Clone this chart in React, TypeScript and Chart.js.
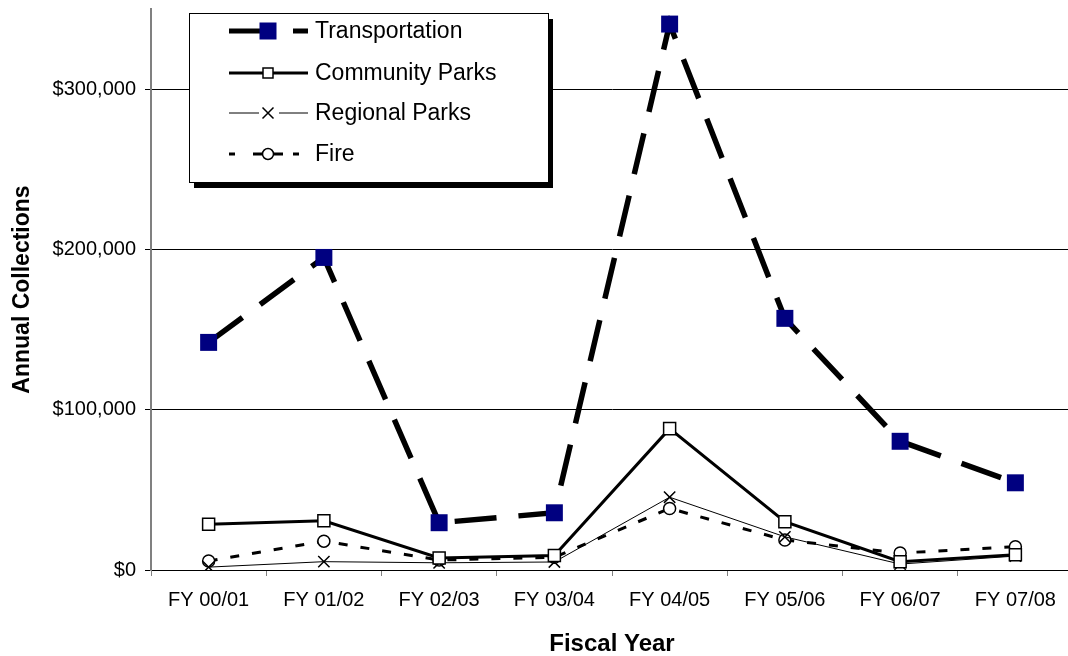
import React, { useEffect, useRef } from "react";
import { Chart, registerables } from "chart.js";

Chart.register(...registerables);

const CATEGORIES = ["FY 00/01", "FY 01/02", "FY 02/03", "FY 03/04", "FY 04/05", "FY 05/06", "FY 06/07", "FY 07/08"];
const TRANSPORTATION = [142000, 195000, 29500, 35700, 340600, 157000, 80300, 54400];
const COMMUNITY_PARKS = [28600, 30700, 7500, 9000, 88200, 30100, 5200, 9500];
const REGIONAL_PARKS = [1800, 5200, 4500, 5000, 45400, 20700, 3700, 8700];
const FIRE = [5600, 18000, 6200, 8000, 38400, 18700, 10600, 14500];
const SERIES_NAMES = ["Transportation", "Community Parks", "Regional Parks", "Fire"];
const Y_TICKS = [0, 100000, 200000, 300000];
const Y_MAX = 350000;

const FONT = "'Liberation Sans', Arial, sans-serif";

const legendPlugin = {
  id: "boxLegend",
  afterDraw(chart: any) {
    const ctx: CanvasRenderingContext2D = chart.ctx;
    ctx.save();
    const bx = 189, by = 13, bw = 359, bh = 169;
    ctx.fillStyle = "#000";
    ctx.fillRect(bx + 5, by + 6, bw, bh);
    ctx.fillStyle = "#fff";
    ctx.fillRect(bx, by, bw, bh);
    ctx.strokeStyle = "#000";
    ctx.lineWidth = 1;
    ctx.strokeRect(bx + 0.5, by + 0.5, bw, bh);

    const rows = [31, 73, 113, 154];
    const x0 = 229, x1 = 308, mx = 268, tx = 315;
    ctx.lineCap = "butt";

    // Transportation
    let y = rows[0];
    ctx.strokeStyle = "#000";
    ctx.lineWidth = 5;
    ctx.beginPath();
    ctx.moveTo(x0, y); ctx.lineTo(262, y);
    ctx.moveTo(293, y); ctx.lineTo(x1, y);
    ctx.stroke();
    ctx.fillStyle = "#000080";
    ctx.fillRect(mx - 8.5, y - 8.5, 17, 17);

    // Community Parks
    y = rows[1];
    ctx.lineWidth = 3;
    ctx.beginPath();
    ctx.moveTo(x0, y); ctx.lineTo(x1, y);
    ctx.stroke();
    ctx.fillStyle = "#fff";
    ctx.fillRect(mx - 5, y - 5, 10, 10);
    ctx.lineWidth = 1.5;
    ctx.strokeRect(mx - 5, y - 5, 10, 10);

    // Regional Parks
    y = rows[2];
    ctx.lineWidth = 1;
    ctx.beginPath();
    ctx.moveTo(x0, y); ctx.lineTo(259, y);
    ctx.moveTo(279, y); ctx.lineTo(x1, y);
    ctx.stroke();
    ctx.lineWidth = 1.5;
    ctx.beginPath();
    ctx.moveTo(mx - 5.5, y - 5.5); ctx.lineTo(mx + 5.5, y + 5.5);
    ctx.moveTo(mx + 5.5, y - 5.5); ctx.lineTo(mx - 5.5, y + 5.5);
    ctx.stroke();

    // Fire
    y = rows[3];
    ctx.lineWidth = 3;
    ctx.beginPath();
    ctx.moveTo(x0, y); ctx.lineTo(235, y);
    ctx.moveTo(253, y); ctx.lineTo(262, y);
    ctx.moveTo(274, y); ctx.lineTo(283, y);
    ctx.moveTo(293, y); ctx.lineTo(299, y);
    ctx.stroke();
    ctx.fillStyle = "#fff";
    ctx.lineWidth = 1.5;
    ctx.beginPath();
    ctx.arc(mx, y, 5.5, 0, Math.PI * 2);
    ctx.fill();
    ctx.stroke();

    ctx.fillStyle = "#000";
    ctx.font = `23px ${FONT}`;
    ctx.textAlign = "left";
    ctx.textBaseline = "middle";
    SERIES_NAMES.forEach((n, i) => ctx.fillText(n, tx, rows[i] + 1));
    ctx.restore();
  },
};

export default function App() {
  const ref = useRef<HTMLCanvasElement>(null);
  useEffect(() => {
    if (!ref.current) return;
    const chart = new Chart(ref.current, {
      type: "line",
      data: {
        labels: CATEGORIES,
        datasets: [
          {
            label: SERIES_NAMES[0],
            data: TRANSPORTATION,
            borderColor: "#000",
            borderWidth: 5.5,
            borderDash: [42, 22],
            pointStyle: "rect",
            pointRadius: 12,
            pointBackgroundColor: "#000080",
            pointBorderColor: "#000080",
            pointBorderWidth: 0,
            tension: 0,
          },
          {
            label: SERIES_NAMES[1],
            data: COMMUNITY_PARKS,
            borderColor: "#000",
            borderWidth: 3,
            pointStyle: "rect",
            pointRadius: 8.5,
            pointBackgroundColor: "#fff",
            pointBorderColor: "#000",
            pointBorderWidth: 1.5,
            tension: 0,
          },
          {
            label: SERIES_NAMES[2],
            data: REGIONAL_PARKS,
            borderColor: "#000",
            borderWidth: 1,
            pointStyle: "crossRot",
            pointRadius: 8,
            pointBorderColor: "#000",
            pointBorderWidth: 1.5,
            tension: 0,
          },
          {
            label: SERIES_NAMES[3],
            data: FIRE,
            borderColor: "#000",
            borderWidth: 3,
            borderDash: [9, 13],
            pointStyle: "circle",
            pointRadius: 6,
            pointBackgroundColor: "#fff",
            pointBorderColor: "#000",
            pointBorderWidth: 1.5,
            tension: 0,
          },
        ],
      },
      options: {
        responsive: false,
        animation: false,
        devicePixelRatio: 1,
        layout: { autoPadding: false, padding: { top: 9, right: 3, left: 0, bottom: 0 } },
        plugins: { legend: { display: false }, tooltip: { enabled: false } },
        scales: {
          x: {
            type: "category",
            offset: true,
            grid: {
              offset: true,
              drawOnChartArea: false,
              tickLength: 6,
              tickColor: "#808080",
            },
            border: { color: "#000", width: 1 },
            ticks: { color: "#000", font: { family: FONT, size: 20 }, padding: 12, maxRotation: 0, autoSkip: false },
            title: {
              display: true,
              text: "Fiscal Year",
              color: "#000",
              font: { family: FONT, size: 24, weight: "bold", lineHeight: 1 },
              padding: { top: 0, bottom: 0 },
            },
            afterFit: (s: any) => {
              s.height = 86;
              s.paddingLeft = 0;
              s.paddingRight = 0;
            },
          },
          y: {
            min: 0,
            max: Y_MAX,
            grid: { color: "#000", lineWidth: 1, tickLength: 6, tickColor: "#000" },
            border: { color: "#808080", width: 2 },
            ticks: {
              color: "#000",
              font: { family: FONT, size: 20 },
              padding: 9,
              callback: (v: any) => "$" + Number(v).toLocaleString("en-US"),
            },
            afterBuildTicks: (s: any) => {
              s.ticks = Y_TICKS.map((v) => ({ value: v }));
            },
            title: {
              display: true,
              text: "Annual Collections",
              color: "#000",
              font: { family: FONT, size: 23, weight: "bold", lineHeight: 1 },
              padding: { top: 11, bottom: 0 },
            },
            afterFit: (s: any) => {
              s.width = 151;
              s.paddingTop = 0;
              s.paddingBottom = 0;
            },
          },
        },
      },
      plugins: [legendPlugin],
    });
    return () => chart.destroy();
  }, []);

  return (
    <div style={{ position: "fixed", left: 0, top: 0, width: 1068, height: 656, overflow: "hidden", background: "#fff" }}>
      <canvas ref={ref} width={1076} height={656} style={{ width: 1076, height: 656, display: "block" }} />
    </div>
  );
}
